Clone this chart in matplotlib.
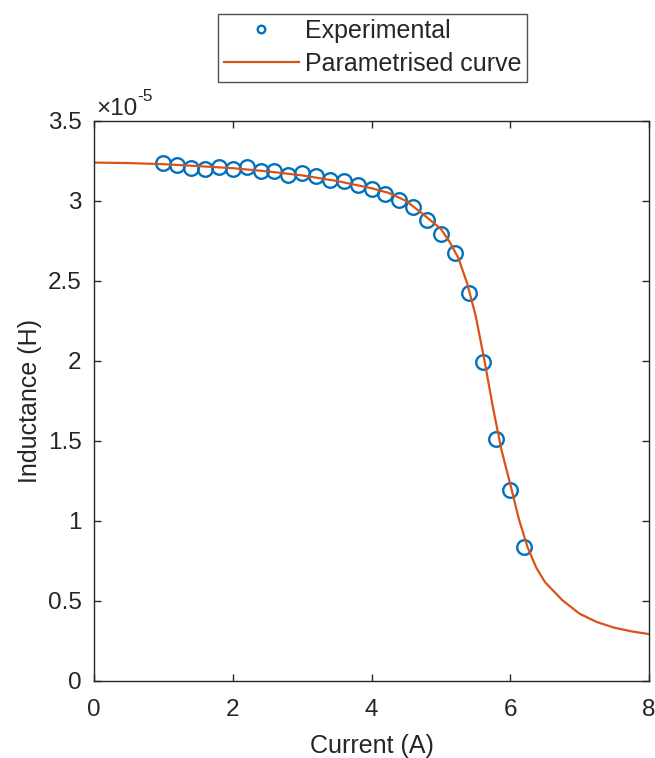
"""Inductance vs current: measured points and the parametrised fit."""
import matplotlib
matplotlib.use("Agg")
import matplotlib.pyplot as plt
from matplotlib.ticker import FuncFormatter

plt.rcParams["font.family"] = ["Liberation Sans", "DejaVu Sans"]

# measured points (current in A, inductance in units of 1e-5 H)
current_exp = [1.0, 1.2, 1.4, 1.6, 1.8, 2.0, 2.2, 2.4, 2.6, 2.8, 3.0, 3.2, 3.4, 3.6,
               3.8, 4.0, 4.2, 4.4, 4.6, 4.8, 5.0, 5.2, 5.4, 5.6, 5.8, 6.0, 6.2]
inductance_exp = [3.235, 3.222, 3.205, 3.198, 3.215, 3.198, 3.210, 3.190, 3.188, 3.165,
                  3.172, 3.155, 3.128, 3.122, 3.098, 3.075, 3.045, 3.005, 2.962, 2.880,
                  2.795, 2.675, 2.425, 1.995, 1.515, 1.195, 0.840]

# parametrised curve
current_fit = [0.0, 0.5, 1.0, 1.5, 2.0, 2.5, 3.0, 3.5, 4.0, 4.25, 4.5, 4.75, 5.0,
               5.125, 5.25, 5.375, 5.5, 5.625, 5.75, 5.875, 6.0, 6.125, 6.25,
               6.375, 6.5, 6.75, 7.0, 7.25, 7.5, 7.75, 8.0]
inductance_fit = [3.240, 3.237, 3.230, 3.218, 3.205, 3.185, 3.160, 3.125, 3.080,
                  3.050, 3.000, 2.915, 2.825, 2.745, 2.645, 2.490, 2.285, 2.010,
                  1.710, 1.440, 1.230, 1.010, 0.835, 0.708, 0.618, 0.505, 0.420,
                  0.368, 0.333, 0.310, 0.293]

BLUE = "#0072BD"
ORANGE = "#D95319"
TEXT = "#262626"

fig = plt.figure(figsize=(6.55, 7.58), dpi=100)
ax = fig.add_axes([0.1435, 0.1016, 0.8474, 0.7388])

ax.plot(current_exp, inductance_exp, linestyle="none", marker="o", markersize=10.5,
        markerfacecolor="none", markeredgecolor=BLUE, markeredgewidth=1.7,
        label="Experimental")
ax.plot(current_fit, inductance_fit, color=ORANGE, linewidth=1.6,
        label="Parametrised curve")

ax.set_xlim(0, 8)
ax.set_ylim(0, 3.5)
ax.set_xticks([0, 2, 4, 6, 8])
ax.set_yticks([0, 0.5, 1, 1.5, 2, 2.5, 3, 3.5])
ax.yaxis.set_major_formatter(FuncFormatter(lambda v, _: f"{v:g}"))
ax.tick_params(direction="in", top=True, right=True, length=5, width=1,
               colors=TEXT, labelsize=17.5)
ax.tick_params(axis="x", pad=13)
ax.tick_params(axis="y", pad=9)
for spine in ax.spines.values():
    spine.set_color(TEXT)
    spine.set_linewidth(1)

ax.set_xlabel("Current (A)", fontsize=18, color=TEXT, labelpad=9)
ax.set_ylabel("Inductance (H)", fontsize=18, color=TEXT, labelpad=4)

# exponent label in the top-left corner, MATLAB style
exp_base = ax.text(0.004, 1.01, "\u00d710", transform=ax.transAxes, fontsize=17.5,
                   color=TEXT, ha="left", va="baseline")
ax.annotate("-5", xy=(1.0, 1.1), xycoords=exp_base, fontsize=12.5, color=TEXT,
            ha="left", va="center")

leg = fig.legend(loc="center", bbox_to_anchor=(0.5687, 0.9373), fontsize=18,
                 frameon=True, fancybox=False, edgecolor=TEXT, handlelength=3.0,
                 borderpad=0.22, labelspacing=0.36, handletextpad=0.25,
                 markerscale=0.52)
leg.get_frame().set_linewidth(1)
for t in leg.get_texts():
    t.set_color(TEXT)

fig.savefig("out.png", dpi=100)
